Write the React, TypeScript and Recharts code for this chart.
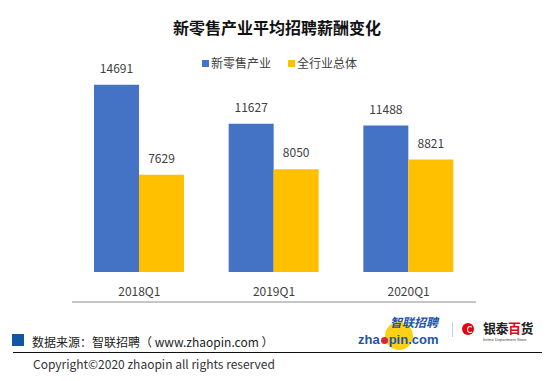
import React from 'react';
import { BarChart, Bar, XAxis, YAxis, LabelList } from 'recharts';

const categories = ['2018Q1', '2019Q1', '2020Q1'];
const seriesNames = ['新零售产业', '全行业总体'];
const newRetail = [14691, 11627, 11488];
const overall = [7629, 8050, 8821];
const boundaryTicks = [0, 1, 2, 3];

const COLORS = ['#4472C4', '#FFC000'];
const FONT = '"Noto Sans CJK SC", "Noto Sans", sans-serif';

const data = categories.map((cat, i) => ({
  cat,
  idx: i + 0.5,
  a: newRetail[i],
  b: overall[i],
}));

function LegendRow() {
  return (
    <div
      style={{
        position: 'absolute', left: 202, top: 55, display: 'flex', alignItems: 'center',
        fontSize: 12, color: '#404040', fontFamily: FONT, lineHeight: '16px',
      }}
    >
      {seriesNames.map((name, i) => (
        <div key={name} style={{ display: 'flex', alignItems: 'center', marginRight: i === 0 ? 17 : 0 }}>
          <span style={{ width: 7, height: 7, background: COLORS[i], marginRight: 2, display: 'inline-block' }} />
          <span>{name}</span>
        </div>
      ))}
    </div>
  );
}

function Footer() {
  return (
    <>
      <div style={{ position: 'absolute', left: 12, top: 334, width: 12, height: 12, background: '#1155A5' }} />
      <div
        style={{
          position: 'absolute', left: 32, top: 333, fontSize: 12, lineHeight: '18px',
          color: '#222', fontFamily: FONT, whiteSpace: 'nowrap',
        }}
      >
        数据来源：智联招聘（ www.zhaopin.com ）
      </div>
      <div style={{ position: 'absolute', left: 13, top: 352, width: 529, height: 0, borderTop: '1.5px solid #111' }} />
      <div
        style={{
          position: 'absolute', left: 33, top: 355, fontSize: 12, lineHeight: '18px',
          color: '#333', fontFamily: FONT, whiteSpace: 'nowrap',
        }}
      >
        Copyright©2020 zhaopin all rights reserved
      </div>

      {/* zhaopin logo */}
      <div style={{ position: 'absolute', left: 385, top: 322, width: 28, height: 28, borderRadius: '50%', background: '#FCD116' }} />
      <div
        style={{
          position: 'absolute', left: 390, top: 316, fontSize: 12, fontWeight: 700, fontStyle: 'italic',
          color: '#1B55A8', fontFamily: FONT, lineHeight: '12px', height: 12, whiteSpace: 'nowrap',
        }}
      >
        智联招聘
      </div>
      <div
        style={{
          position: 'absolute', left: 358, top: 335, fontSize: 13, fontWeight: 700,
          color: '#1B55A8', fontFamily: '"Liberation Sans", Arial, sans-serif', lineHeight: '10px', height: 10,
          whiteSpace: 'nowrap', display: 'flex', alignItems: 'flex-end',
        }}
      >
        <span>zha</span>
        <span style={{ width: 7, height: 7, borderRadius: '50%', background: '#D7263D', margin: '0 1px 1px 1px', display: 'inline-block' }} />
        <span>pin.com</span>
      </div>
      <div style={{ position: 'absolute', left: 452, top: 322, width: 1, height: 15, background: '#C8CDD6' }} />

      {/* intime logo */}
      <div style={{ position: 'absolute', left: 462, top: 323, width: 12, height: 12, borderRadius: '50%', background: '#E60012' }} />
      <div style={{ position: 'absolute', left: 467, top: 326, width: 4, height: 5, borderRadius: '50%', border: '1.5px solid #fff', borderRightColor: 'transparent' }} />
      <div
        style={{
          position: 'absolute', left: 483, top: 320, fontSize: 13, fontWeight: 700,
          color: '#222', fontFamily: FONT, lineHeight: '16px', whiteSpace: 'nowrap', letterSpacing: -0.5,
        }}
      >
        银泰<span style={{ color: '#E60012' }}>百</span>货
      </div>
      <div
        style={{
          position: 'absolute', left: 483, top: 337, fontSize: 4, color: '#444',
          fontFamily: '"Liberation Sans", Arial, sans-serif', lineHeight: '5px', whiteSpace: 'nowrap',
        }}
      >
        Intime Department Store
      </div>
    </>
  );
}

export default function App() {
  return (
    <div style={{ position: 'absolute', left: 0, top: 0, width: 554, height: 381, background: '#fff', overflow: 'hidden' }}>
      <div
        style={{
          position: 'absolute', left: 0, top: 17, width: 554, textAlign: 'center', fontSize: 16,
          fontWeight: 700, color: '#111', fontFamily: FONT, lineHeight: '20px',
        }}
      >
        新零售产业平均招聘薪酬变化
      </div>
      <LegendRow />

      <BarChart
        width={554}
        height={381}
        data={data}
        margin={{ top: 68, right: 78, bottom: 78, left: 72 }}
        barGap={0}
        style={{ position: 'absolute', left: 0, top: 0 }}
      >
        <XAxis
          xAxisId="grid"
          dataKey="idx"
          type="number"
          domain={[0, 3]}
          ticks={boundaryTicks}
          allowDataOverflow
          height={1}
          tick={false}
          tickSize={4}
          axisLine={{ stroke: '#8C8C8C' }}
          tickLine={{ stroke: '#8C8C8C' }}
        />
        <XAxis
          xAxisId="cat"
          dataKey="cat"
          height={30}
          axisLine={false}
          tickLine={false}
          tickMargin={9}
          tick={{ fill: '#404040', fontSize: 12, fontFamily: FONT }}
        />
        <YAxis hide domain={[0, 16000]} />
        <Bar xAxisId="cat" dataKey="a" name={seriesNames[0]} fill={COLORS[0]} barSize={45} isAnimationActive={false}>
          <LabelList dataKey="a" position="top" offset={12} fill="#404040" fontSize={12} fontFamily={FONT} />
        </Bar>
        <Bar xAxisId="cat" dataKey="b" name={seriesNames[1]} fill={COLORS[1]} barSize={45} isAnimationActive={false}>
          <LabelList dataKey="b" position="top" offset={12} fill="#404040" fontSize={12} fontFamily={FONT} />
        </Bar>
      </BarChart>

      <Footer />
    </div>
  );
}
